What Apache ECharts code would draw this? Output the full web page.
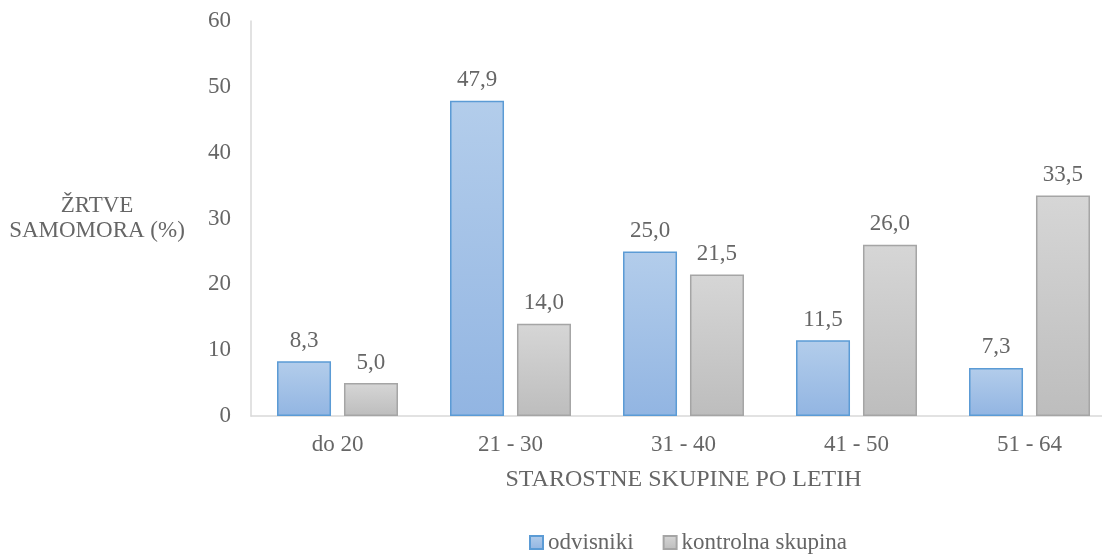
<!DOCTYPE html>
<html>
<head>
<meta charset="utf-8">
<script src="https://cdn.jsdelivr.net/npm/echarts@6/dist/echarts.min.js"></script>
<style>
html,body{margin:0;padding:0;background:#fff;overflow:hidden;width:1102px;height:554px;}
#c{width:1140px;height:554px;}
</style>
</head>
<body>
<div id="c"></div>
<script>
var categories = ['do 20', '21 - 30', '31 - 40', '41 - 50', '51 - 64'];
var odvisniki = [8.3, 47.9, 25.0, 11.5, 7.3];
var kontrolna = [5.0, 14.0, 21.5, 26.0, 33.5];
var seriesNames = ['odvisniki', 'kontrolna skupina'];
var yTicks = { min: 0, max: 60, interval: 10 };

var FONT = '"Liberation Serif", "Times New Roman", serif';
var TXT = '#666666';

function fmt(p) { return p.value.toFixed(1).replace('.', ','); }

var chart = echarts.init(document.getElementById('c'), null, { renderer: 'canvas' });
chart.setOption({
  animation: false,
  textStyle: { fontFamily: FONT, color: TXT },
  grid: { left: 251, top: 21, width: 865, height: 395, containLabel: false },
  legend: {
    data: seriesNames,
    left: 529, top: 531, padding: 0,
    icon: 'rect', itemWidth: 13, itemHeight: 13, itemGap: 29,
    textStyle: { fontFamily: FONT, fontSize: 23, color: TXT, padding: [0, 0, 0, 0] }
  },
  xAxis: {
    type: 'category',
    data: categories,
    name: 'STAROSTNE SKUPINE PO LETIH',
    nameLocation: 'middle',
    nameGap: 52,
    nameTextStyle: { fontFamily: FONT, fontSize: 24, color: TXT },
    axisLine: { show: true, lineStyle: { color: '#d9d9d9', width: 1.5 } },
    axisTick: { show: false },
    axisLabel: { fontFamily: FONT, fontSize: 23, color: TXT, margin: 17 },
    splitLine: { show: false }
  },
  yAxis: {
    type: 'value',
    min: yTicks.min, max: yTicks.max, interval: yTicks.interval,
    name: 'ŽRTVE\nSAMOMORA (%)',
    nameLocation: 'middle',
    nameRotate: 0,
    nameGap: 154,
    nameTextStyle: { fontFamily: FONT, fontSize: 23, color: TXT, align: 'center', verticalAlign: 'middle', lineHeight: 25, padding: [4, 0, 0, 0] },
    axisLine: { show: true, lineStyle: { color: '#d9d9d9', width: 1.5 } },
    axisTick: { show: false },
    axisLabel: { fontFamily: FONT, fontSize: 23, color: TXT, margin: 20 },
    splitLine: { show: false }
  },
  series: [
    {
      name: seriesNames[0], type: 'bar', data: odvisniki,
      barWidth: 54, barGap: '24%',
      itemStyle: {
        color: new echarts.graphic.LinearGradient(0, 0, 0, 1, [
          { offset: 0, color: '#b3cdeb' }, { offset: 1, color: '#92b5e2' }
        ]),
        borderColor: '#5b9bd5', borderWidth: 1.5
      },
      label: { show: true, position: 'top', distance: 9, formatter: fmt, fontFamily: FONT, fontSize: 23, color: TXT }
    },
    {
      name: seriesNames[1], type: 'bar', data: kontrolna,
      barWidth: 54, barGap: '24%',
      itemStyle: {
        color: new echarts.graphic.LinearGradient(0, 0, 0, 1, [
          { offset: 0, color: '#d6d6d6' }, { offset: 1, color: '#bdbdbd' }
        ]),
        borderColor: '#a5a5a5', borderWidth: 1.5
      },
      label: { show: true, position: 'top', distance: 9, formatter: fmt, fontFamily: FONT, fontSize: 23, color: TXT }
    }
  ]
});
</script>
</body>
</html>
